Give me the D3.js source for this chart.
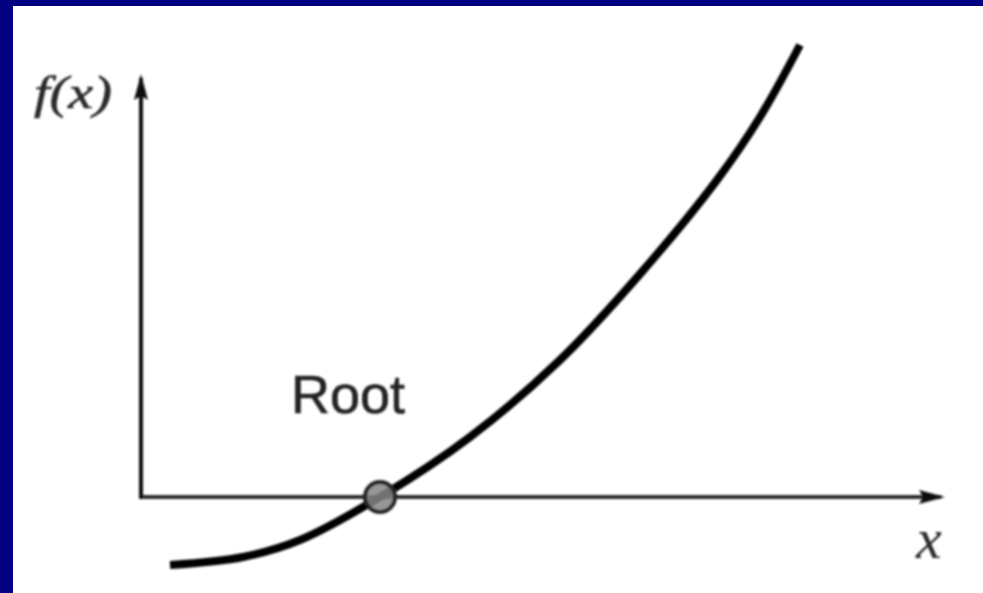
<!DOCTYPE html>
<html>
<head>
<meta charset="utf-8">
<script src="https://cdn.jsdelivr.net/npm/d3@7"></script>
<style>
  html, body { margin: 0; padding: 0; background: #ffffff; }
  svg { display: block; }
</style>
</head>
<body>
<svg id="chart" width="983" height="593"></svg>
<script>
// Curve samples (x, f(x)) in plot units
const curveX = [0.29, 1.02, 1.59, 2.39, 3.29, 4.19, 4.99, 5.76, 6.19, 6.59];
const curveY = [-0.68, -0.60, -0.43, 0.00, 0.60, 1.37, 2.23, 3.17, 3.80, 4.52];
const rootX = [2.39];
const rootY = [0];
const axisLabels = ["f(x)", "x"];
const annotation = ["Root"];

const W = 983, H = 593;
const svg = d3.select("#chart");

// page frame: navy strips along the left and top edges
svg.append("rect").attr("x", 0).attr("y", 0).attr("width", W).attr("height", H).attr("fill", "#ffffff");
svg.append("rect").attr("x", 0).attr("y", 0).attr("width", 13).attr("height", H).attr("fill", "#000080");
svg.append("rect").attr("x", 0).attr("y", 0).attr("width", W).attr("height", 6).attr("fill", "#000080");

const x = d3.scaleLinear().domain([0, 8]).range([141, 941]);
const y = d3.scaleLinear().domain([0, 4.5]).range([497, 47]);

const defs = svg.append("defs");
defs.append("filter").attr("id", "soft")
  .append("feGaussianBlur").attr("stdDeviation", 0.9);

const g = svg.append("g").attr("filter", "url(#soft)");

// axes with arrowheads
const xMaxAxis = 8.04, yMaxAxis = 4.23;
g.append("line")
  .attr("x1", x(0)).attr("y1", y(0)).attr("x2", x(xMaxAxis) - 4).attr("y2", y(0))
  .attr("stroke", "#2e2e2e").attr("stroke-width", 4);
g.append("line")
  .attr("x1", x(0)).attr("y1", y(0) + 2).attr("x2", x(0)).attr("y2", y(yMaxAxis) + 4)
  .attr("stroke", "#111").attr("stroke-width", 4);

const ax = x(xMaxAxis), ay = y(0);
g.append("path")
  .attr("d", `M${ax},${ay} L${ax - 26},${ay - 7} L${ax - 22},${ay} L${ax - 26},${ay + 7} Z`)
  .attr("fill", "#111");
const vx = x(0), vy = y(yMaxAxis);
g.append("path")
  .attr("d", `M${vx},${vy} L${vx - 7},${vy + 26} L${vx},${vy + 22} L${vx + 7},${vy + 26} Z`)
  .attr("fill", "#111");

// the function curve
const pts = curveX.map((d, i) => [d, curveY[i]]);
const line = d3.line().x(d => x(d[0])).y(d => y(d[1])).curve(d3.curveCatmullRom.alpha(0.5));
g.append("path")
  .attr("d", line(pts))
  .attr("fill", "none")
  .attr("stroke", "#000")
  .attr("stroke-width", 8)
  .attr("stroke-linecap", "butt");

// root marker
g.selectAll("circle.root")
  .data(rootX.map((d, i) => [d, rootY[i]]))
  .join("circle")
  .attr("class", "root")
  .attr("cx", d => x(d[0]))
  .attr("cy", d => y(d[1]))
  .attr("r", 15)
  .attr("fill", "#858585")
  .attr("fill-opacity", 0.85)
  .attr("stroke", "#222")
  .attr("stroke-width", 4);

// labels
g.append("text")
  .attr("x", 34).attr("y", 108)
  .attr("font-family", "Liberation Serif, serif")
  .attr("font-style", "italic")
  .attr("font-size", 46)
  .attr("textLength", 78)
  .attr("lengthAdjust", "spacingAndGlyphs")
  .attr("fill", "#2a2a2a")
  .attr("stroke", "#2a2a2a").attr("stroke-width", 0.6)
  .text(axisLabels[0]);

g.append("text")
  .attr("x", 916).attr("y", 558)
  .attr("font-family", "Liberation Serif, serif")
  .attr("font-style", "italic")
  .attr("font-size", 58)
  .attr("fill", "#2a2a2a")
  .text(axisLabels[1]);

g.append("text")
  .attr("x", 291).attr("y", 413)
  .attr("font-family", "Liberation Sans, Arial, sans-serif")
  .attr("font-size", 54)
  .attr("fill", "#222")
  .attr("stroke", "#222").attr("stroke-width", 0.6)
  .text(annotation[0]);
</script>
</body>
</html>
